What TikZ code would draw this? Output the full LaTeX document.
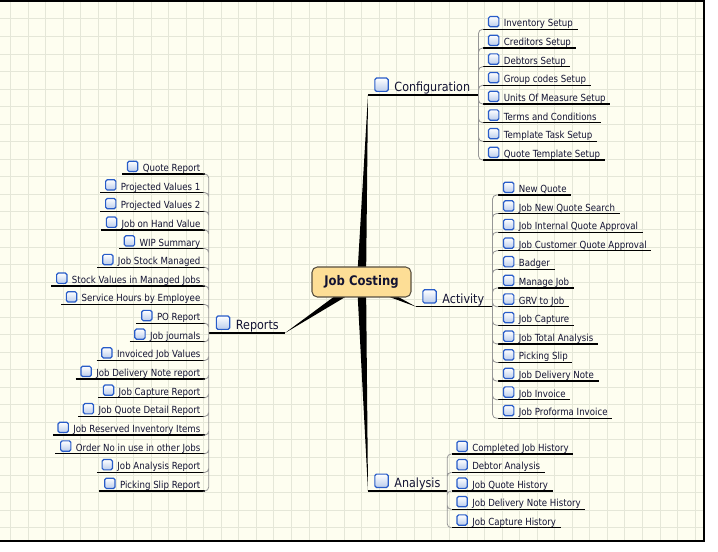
\documentclass[tikz,border=0pt]{standalone}
\usepackage{fontspec}
\setmainfont{DejaVu Sans}[FakeStretch=0.88]
\usetikzlibrary{calc}
\definecolor{paper}{RGB}{254,254,240}
\definecolor{gridc}{RGB}{229,231,216}
\definecolor{corefill}{RGB}{253,222,150}
\definecolor{coredraw}{RGB}{88,80,64}
\definecolor{icoblue}{RGB}{40,92,200}
\definecolor{icofill}{RGB}{186,204,236}
\definecolor{twigc}{RGB}{150,150,150}
\definecolor{txt}{RGB}{18,18,50}
\newcommand{\leaffont}{\fontsize{7.35}{9}\selectfont}
\newcommand{\topicfont}{\fontsize{9.5}{11}\selectfont}
\newcommand{\corefont}{\fontsize{9.9}{12}\selectfont\bfseries}
\newcommand{\icn}{\tikz[baseline=0pt]\node[ico]{};\hspace{0.45em}}

\begin{document}
\begin{tikzpicture}[x=0.75pt,y=-0.75pt,gridline/.style={draw=gridc,line width=0.75pt},frame/.style={draw=black,line width=1.2pt},core/.style={draw=coredraw,fill=corefill,rounded corners=4pt,line width=0.8pt,font=\corefont,text=txt,minimum width=74.25pt,minimum height=22.5pt,inner sep=0pt},topic/.style={font=\topicfont,text=txt,anchor=south west,inner xsep=4.5pt,inner ysep=0.8pt,text height=7pt,text depth=1.7pt},leaf/.style={font=\leaffont,text=txt,anchor=south west,inner xsep=3.3pt,inner ysep=0.5pt,text height=5.6pt,text depth=1.2pt},lleaf/.style={leaf,anchor=south east},ico/.style={draw=icoblue,line width=0.9pt,rounded corners=1.2pt,top color=white,bottom color=icofill,minimum size=1.05em,inner sep=0pt,outer sep=0pt,anchor=south west,text width=,text height=,text depth=},branch/.style={fill=black},uline/.style={draw=black,line width=1pt},tline/.style={draw=black,line width=1.2pt},twig/.style={draw=twigc,line width=0.6pt,rounded corners=3pt}]
\useasboundingbox (0,0) rectangle (718,552);
\fill[white] (0,0) rectangle (718,552);
\fill[paper] (0,1) rectangle (704,541);
\begin{scope}[shift={(10.7,1.46)}]
\draw[gridline,xstep=13.1625pt,ystep=13.155pt] (-10.7,539.5) grid (693.3,-0.5);
\end{scope}
\draw[frame] (0,1) -- (704,1) -- (704,541) -- (0,541);
\coordinate (hub) at (361.5,282);
% main topics
\node[topic,text width=73.5pt,align=left] (cfg) at (368,95) {\icn Configuration};
\node[topic,text width=48pt,align=left] (act) at (416,306.7) {\icn Activity};
\node[topic,text width=50pt,align=left] (ana) at (368,491) {\icn Analysis};
\node[topic,anchor=south east,text width=47.8pt,align=right] (rep) at (285,333) {\icn Reports};
% configuration
\node[leaf] (inv) at (483.3,29.3) {\icn Inventory Setup};
\node[leaf] (cred) at (483.3,48.0) {\icn Creditors Setup};
\node[leaf] (debt) at (483.3,66.7) {\icn Debtors Setup};
\node[leaf] (grp) at (483.3,85.3) {\icn Group codes Setup};
\node[leaf] (uom) at (483.3,104.0) {\icn Units Of Measure Setup};
\node[leaf] (terms) at (483.3,122.7) {\icn Terms and Conditions};
\node[leaf] (tmpl) at (483.3,141.3) {\icn Template Task Setup};
\node[leaf] (qtmpl) at (483.3,160.0) {\icn Quote Template Setup};
% activity
\node[leaf] (nq) at (498.3,195.0) {\icn New Quote};
\node[leaf] (nqs) at (498.3,213.6) {\icn Job New Quote Search};
\node[leaf] (iqa) at (498.3,232.2) {\icn Job Internal Quote Approval};
\node[leaf] (cqa) at (498.3,250.8) {\icn Job Customer Quote Approval};
\node[leaf] (badger) at (498.3,269.4) {\icn Badger};
\node[leaf] (mjob) at (498.3,288.1) {\icn Manage Job};
\node[leaf] (grv) at (498.3,306.7) {\icn GRV to Job};
\node[leaf] (jcap) at (498.3,325.3) {\icn Job Capture};
\node[leaf] (jta) at (498.3,343.9) {\icn Job Total Analysis};
\node[leaf] (pslip) at (498.3,362.5) {\icn Picking Slip};
\node[leaf] (jdn) at (498.3,381.1) {\icn Job Delivery Note};
\node[leaf] (jinv) at (498.3,399.7) {\icn Job Invoice};
\node[leaf] (jpro) at (498.3,418.3) {\icn Job Proforma Invoice};
% analysis
\node[leaf] (cjh) at (451.7,454.0) {\icn Completed Job History};
\node[leaf] (dan) at (451.7,472.4) {\icn Debtor Analysis};
\node[leaf] (jqh) at (451.7,490.9) {\icn Job Quote History};
\node[leaf] (jdnh) at (451.7,509.3) {\icn Job Delivery Note History};
\node[leaf] (jch) at (451.7,527.7) {\icn Job Capture History};
% reports
\node[lleaf] (qrep) at (205,174.0) {\icn Quote Report};
\node[lleaf] (pv1) at (205,192.6) {\icn Projected Values 1};
\node[lleaf] (pv2) at (205,211.3) {\icn Projected Values 2};
\node[lleaf] (johv) at (205,229.9) {\icn Job on Hand Value};
\node[lleaf] (wip) at (205,248.6) {\icn WIP Summary};
\node[lleaf] (jsm) at (205,267.2) {\icn Job Stock Managed};
\node[lleaf] (svmj) at (205,285.9) {\icn Stock Values in Managed Jobs};
\node[lleaf] (shbe) at (205,304.5) {\icn Service Hours by Employee};
\node[lleaf] (porep) at (205,323.2) {\icn PO Report};
\node[lleaf] (jjour) at (205,341.8) {\icn Job journals};
\node[lleaf] (ijv) at (205,360.5) {\icn Invoiced Job Values};
\node[lleaf] (jdnr) at (205,379.1) {\icn Job Delivery Note report};
\node[lleaf] (jcr) at (205,397.8) {\icn Job Capture Report};
\node[lleaf] (jqdr) at (205,416.4) {\icn Job Quote Detail Report};
\node[lleaf] (jrii) at (205,435.1) {\icn Job Reserved Inventory Items};
\node[lleaf] (ono) at (205,453.7) {\icn Order No in use in other Jobs};
\node[lleaf] (jar) at (205,472.4) {\icn Job Analysis Report};
\node[lleaf] (psr) at (205,491.0) {\icn Picking Slip Report};
% tapered branches from the centre
\fill[branch] ($(hub)!3.4pt!90:(cfg.south west)$) -- (cfg.south west) -- ($(hub)!3.4pt!-90:(cfg.south west)$) -- cycle;
\fill[branch] ($(hub)!3.4pt!90:(act.south west)$) -- (act.south west) -- ($(hub)!3.4pt!-90:(act.south west)$) -- cycle;
\fill[branch] ($(hub)!3.4pt!90:(ana.south west)$) -- (ana.south west) -- ($(hub)!3.4pt!-90:(ana.south west)$) -- cycle;
\fill[branch] ($(hub)!3.4pt!90:(rep.south east)$) -- (rep.south east) -- ($(hub)!3.4pt!-90:(rep.south east)$) -- cycle;
\node[core] (jc) at (hub) {Job Costing};
% underlines
\draw[tline] (cfg.south west) -- (cfg.south east) (act.south west) -- (act.south east) (ana.south west) -- (ana.south east) (rep.south west) -- (rep.south east);
\draw[uline] (inv.south west) -- (inv.south east) (cred.south west) -- (cred.south east) (debt.south west) -- (debt.south east) (grp.south west) -- (grp.south east) (uom.south west) -- (uom.south east) (terms.south west) -- (terms.south east) (tmpl.south west) -- (tmpl.south east) (qtmpl.south west) -- (qtmpl.south east);
\draw[uline] (nq.south west) -- (nq.south east) (nqs.south west) -- (nqs.south east) (iqa.south west) -- (iqa.south east) (cqa.south west) -- (cqa.south east) (badger.south west) -- (badger.south east) (mjob.south west) -- (mjob.south east) (grv.south west) -- (grv.south east) (jcap.south west) -- (jcap.south east) (jta.south west) -- (jta.south east) (pslip.south west) -- (pslip.south east) (jdn.south west) -- (jdn.south east) (jinv.south west) -- (jinv.south east) (jpro.south west) -- (jpro.south east);
\draw[uline] (cjh.south west) -- (cjh.south east) (dan.south west) -- (dan.south east) (jqh.south west) -- (jqh.south east) (jdnh.south west) -- (jdnh.south east) (jch.south west) -- (jch.south east);
\draw[uline] (qrep.south west) -- (qrep.south east) (pv1.south west) -- (pv1.south east) (pv2.south west) -- (pv2.south east) (johv.south west) -- (johv.south east) (wip.south west) -- (wip.south east) (jsm.south west) -- (jsm.south east) (svmj.south west) -- (svmj.south east) (shbe.south west) -- (shbe.south east) (porep.south west) -- (porep.south east);
\draw[uline] (jjour.south west) -- (jjour.south east) (ijv.south west) -- (ijv.south east) (jdnr.south west) -- (jdnr.south east) (jcr.south west) -- (jcr.south east) (jqdr.south west) -- (jqdr.south east) (jrii.south west) -- (jrii.south east) (ono.south west) -- (ono.south east) (jar.south west) -- (jar.south east) (psr.south west) -- (psr.south east);
% connectors to the sub topics
\draw[twig] (cfg.south east) |- (inv.south west) (cfg.south east) |- (cred.south west) (cfg.south east) |- (debt.south west) (cfg.south east) |- (grp.south west) (cfg.south east) |- (uom.south west) (cfg.south east) |- (terms.south west) (cfg.south east) |- (tmpl.south west) (cfg.south east) |- (qtmpl.south west);
\draw[twig] (act.south east) |- (nq.south west) (act.south east) |- (nqs.south west) (act.south east) |- (iqa.south west) (act.south east) |- (cqa.south west) (act.south east) |- (badger.south west) (act.south east) |- (mjob.south west) (act.south east) |- (grv.south west) (act.south east) |- (jcap.south west) (act.south east) |- (jta.south west) (act.south east) |- (pslip.south west) (act.south east) |- (jdn.south west) (act.south east) |- (jinv.south west) (act.south east) |- (jpro.south west);
\draw[twig] (ana.south east) |- (cjh.south west) (ana.south east) |- (dan.south west) (ana.south east) |- (jqh.south west) (ana.south east) |- (jdnh.south west) (ana.south east) |- (jch.south west);
\draw[twig] (rep.south west) |- (qrep.south east) (rep.south west) |- (pv1.south east) (rep.south west) |- (pv2.south east) (rep.south west) |- (johv.south east) (rep.south west) |- (wip.south east) (rep.south west) |- (jsm.south east) (rep.south west) |- (svmj.south east) (rep.south west) |- (shbe.south east) (rep.south west) |- (porep.south east);
\draw[twig] (rep.south west) |- (jjour.south east) (rep.south west) |- (ijv.south east) (rep.south west) |- (jdnr.south east) (rep.south west) |- (jcr.south east) (rep.south west) |- (jqdr.south east) (rep.south west) |- (jrii.south east) (rep.south west) |- (ono.south east) (rep.south west) |- (jar.south east) (rep.south west) |- (psr.south east);
\end{tikzpicture}
\end{document}
